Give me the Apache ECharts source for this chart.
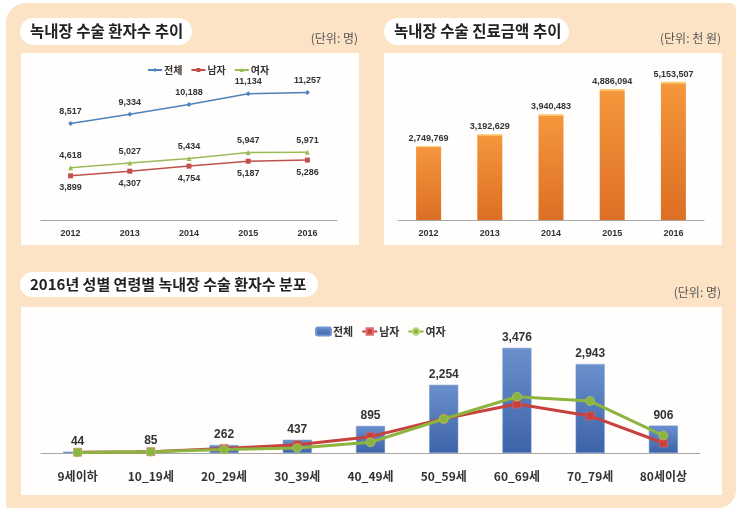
<!DOCTYPE html>
<html><head><meta charset="utf-8">
<script src="https://cdn.jsdelivr.net/npm/echarts@6/dist/echarts.min.js"></script>
<style>html,body{margin:0;padding:0;background:#fff}#c{width:743px;height:514px}</style>
</head><body><div id="c"></div>
<script>
const years = ['2012','2013','2014','2015','2016'];
const patientTotal = [8517, 9334, 10188, 11134, 11257];
const patientMale = [3899, 4307, 4754, 5187, 5286];
const patientFemale = [4618, 5027, 5434, 5947, 5971];
const costAmount = [2749769, 3192629, 3940483, 4886094, 5153507];
const ageGroups = ['9세이하','10_19세','20_29세','30_39세','40_49세','50_59세','60_69세','70_79세','80세이상'];
const ageTotal = [44, 85, 262, 437, 895, 2254, 3476, 2943, 906];
const ageMale = [24, 45, 150, 270, 540, 1130, 1617, 1225, 330];
const ageFemale = [20, 40, 112, 167, 355, 1124, 1859, 1718, 576];

const KR = '"Noto Sans CJK KR", "Noto Sans", sans-serif';
const NUM = '"Liberation Sans", Arial, sans-serif';
const fmt = v => String(v).replace(/\B(?=(\d{3})+(?!\d))/g, ',');
const lbl = (size, pos, dist) => ({show: true, position: pos, distance: dist, fontFamily: NUM, fontWeight: 'bold', fontSize: size, color: '#333', formatter: p => fmt(p.value)});

const chart = echarts.init(document.getElementById('c'), null, {renderer: 'canvas'});
function pill(x, y, w, h, text, size) {
  return {type: 'group', z: 1, children: [
    {type: 'rect', shape: {x: x, y: y, width: w, height: h, r: h / 2}, style: {fill: '#FFFFFF'}, z: 1},
    {type: 'text', x: x + 10, y: y + h / 2, z: 2, style: {text: text, font: 'bold ' + size + 'px ' + KR, fill: '#222', verticalAlign: 'middle'}}
  ]};
}
function unit(xr, y, text) {
  return {type: 'text', x: xr, y: y, z: 2, style: {text: text, font: '12px ' + KR, fill: '#555', align: 'right', verticalAlign: 'middle'}};
}
chart.setOption({
  animation: false,
  backgroundColor: '#FFFFFF',
  graphic: [
    {type: 'rect', z: 0, shape: {x: 6, y: 3, width: 730, height: 505, r: [20, 6, 18, 2]}, style: {fill: '#FCE3C6'}},
    {type: 'rect', z: 0, shape: {x: 21, y: 53, width: 338, height: 192}, style: {fill: '#FFFEFC'}},
    {type: 'rect', z: 0, shape: {x: 384, y: 53, width: 338, height: 192}, style: {fill: '#FFFEFC'}},
    {type: 'rect', z: 0, shape: {x: 21, y: 307, width: 701, height: 188}, style: {fill: '#FFFEFC'}},
    pill(20, 18, 172, 27, '녹내장 수술 환자수 추이', 15.5),
    pill(384, 18, 185, 27, '녹내장 수술 진료금액 추이', 15.5),
    pill(20, 272, 298, 25, '2016년 성별 연령별 녹내장 수술 환자수 분포', 15),
    unit(358, 38, '(단위: 명)'),
    unit(721, 38, '(단위: 천 원)'),
    unit(721, 292, '(단위: 명)')
  ],
  legend: [
    {data: ['전체', '남자', '여자'], left: 142, top: 60, itemGap: 8, itemWidth: 14, itemHeight: 5,
     textStyle: {fontFamily: KR, fontWeight: 'bold', fontSize: 10, color: '#333', padding: [0, 0, 0, -3]}},
    {data: ['전체 ', '남자 ', '여자 '], left: 310, top: 321, itemGap: 8, itemWidth: 15, itemHeight: 8,
     formatter: n => n.trim(),
     textStyle: {fontFamily: KR, fontWeight: 'bold', fontSize: 11, color: '#333', padding: [0, 0, 0, -3]}}
  ],
  grid: [
    {left: 41, width: 296, top: 84, height: 136},
    {left: 398, width: 306, top: 59, height: 161},
    {left: 41, width: 659, top: 332, height: 121}
  ],
  xAxis: [
    {gridIndex: 0, type: 'category', data: years, axisLine: {lineStyle: {color: '#A6A6A6'}}, axisTick: {length: 4, lineStyle: {color: '#A6A6A6'}},
     axisLabel: {margin: 9, fontFamily: NUM, fontWeight: 'bold', fontSize: 9, color: '#333'}},
    {gridIndex: 1, type: 'category', data: years, axisLine: {lineStyle: {color: '#A6A6A6'}}, axisTick: {length: 4, lineStyle: {color: '#A6A6A6'}},
     axisLabel: {margin: 9, fontFamily: NUM, fontWeight: 'bold', fontSize: 9, color: '#333'}},
    {gridIndex: 2, type: 'category', data: ageGroups, axisLine: {lineStyle: {color: '#A6A6A6'}}, axisTick: {length: 5, lineStyle: {color: '#BBBBBB'}},
     axisLabel: {margin: 17, fontFamily: KR, fontWeight: 'bold', fontSize: 12, color: '#333'}}
  ],
  yAxis: [
    {gridIndex: 0, type: 'value', min: 0, max: 12000, show: false, splitLine: {show: false}},
    {gridIndex: 1, type: 'value', min: 0, max: 6000000, show: false, splitLine: {show: false}},
    {gridIndex: 2, type: 'value', min: 0, max: 4000, show: false, splitLine: {show: false}}
  ],
  series: [
    {name: '전체', type: 'line', xAxisIndex: 0, yAxisIndex: 0, data: patientTotal, symbol: 'diamond', symbolSize: 5,
     itemStyle: {color: '#4F81BD'}, lineStyle: {width: 1.5, color: '#4F81BD'}, label: lbl(9, 'top', 5)},
    {name: '남자', type: 'line', xAxisIndex: 0, yAxisIndex: 0, data: patientMale, symbol: 'rect', symbolSize: 5,
     itemStyle: {color: '#C0504D'}, lineStyle: {width: 1.5, color: '#C0504D'}, label: lbl(9, 'bottom', 5)},
    {name: '여자', type: 'line', xAxisIndex: 0, yAxisIndex: 0, data: patientFemale, symbol: 'triangle', symbolSize: 5,
     itemStyle: {color: '#9BBB59'}, lineStyle: {width: 1.5, color: '#9BBB59'}, label: lbl(9, 'top', 5)},
    {name: '진료금액', type: 'bar', xAxisIndex: 1, yAxisIndex: 1, data: costAmount, barWidth: 25,
     itemStyle: {color: new echarts.graphic.LinearGradient(0, 0, 0, 1, [
       {offset: 0, color: '#FCC66A'}, {offset: 0.012, color: '#FCC66A'}, {offset: 0.018, color: '#F5963C'}, {offset: 1, color: '#DC6F24'}])},
     label: lbl(9, 'top', 3)},
    {name: '전체 ', type: 'bar', xAxisIndex: 2, yAxisIndex: 2, data: ageTotal, barWidth: 29,
     itemStyle: {color: new echarts.graphic.LinearGradient(0, 0, 0, 1, [
       {offset: 0, color: '#89A9DA'}, {offset: 0.02, color: '#6A8FCC'}, {offset: 1, color: '#3D63A8'}]), borderColor: '#7396CF', borderWidth: 0.5},
     label: lbl(12, 'top', 4)},
    {name: '남자 ', type: 'line', xAxisIndex: 2, yAxisIndex: 2, data: ageMale, symbol: 'rect', symbolSize: 8,
     itemStyle: {color: '#C8413D', borderColor: '#E07070', borderWidth: 0.5}, lineStyle: {width: 3, color: '#C8413D'}},
    {name: '여자 ', type: 'line', xAxisIndex: 2, yAxisIndex: 2, data: ageFemale, symbol: 'circle', symbolSize: 9,
     itemStyle: {color: '#8DB43E', borderColor: '#B8D878', borderWidth: 0.5}, lineStyle: {width: 3, color: '#8DB43E'}}
  ]
});
</script></body></html>
